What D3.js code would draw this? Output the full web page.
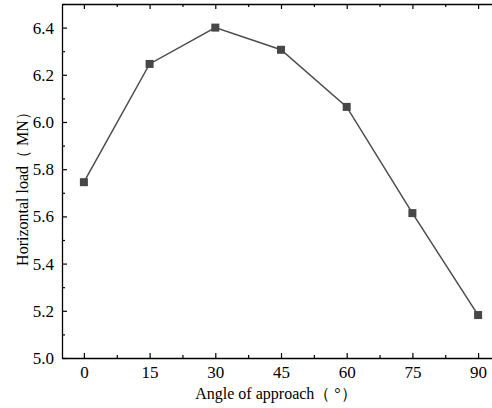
<!DOCTYPE html>
<html>
<head>
<meta charset="utf-8">
<script src="https://d3js.org/d3.v7.min.js"></script>
<style>
  body { margin: 0; background: #fff; }
</style>
</head>
<body>
<script>
// data
const angles = [0, 15, 30, 45, 60, 75, 90];
const loads = [5.745, 6.246, 6.400, 6.306, 6.064, 5.614, 5.182];
const xTicks = [0, 15, 30, 45, 60, 75, 90];
const yTicks = [5.0, 5.2, 5.4, 5.6, 5.8, 6.0, 6.2, 6.4];

const w = 492, h = 408;
const padL = 62, padR = 500, padT = 4, padB = 358;
const serif = "'Liberation Serif', 'Times New Roman', serif";

const svg = d3.select("body").append("svg")
    .attr("width", w)
    .attr("height", h)
    .attr("font-family", serif);

const x = d3.scaleLinear().domain([-5, 95]).range([padL, padR]);
const y = d3.scaleLinear().domain([5.0, 6.5]).range([padB, padT]);

const minorX = d3.range(7.5, 90, 15);
const minorY = d3.range(5.1, 6.5, 0.2);

// tick marks pointing inward on all sides
function ticks(g, axis) {
  g.call(axis);
  g.attr("font-family", serif).attr("font-size", 17);
  g.select(".domain").attr("stroke", "#000").attr("stroke-width", 1.3);
  g.selectAll(".tick line").attr("stroke", "#000").attr("stroke-width", 1.2);
  g.selectAll("text").attr("fill", "#000");
}
function minor(g, axis) {
  g.call(axis);
  g.select(".domain").remove();
  g.selectAll("line").attr("stroke", "#000").attr("stroke-width", 1.2);
}

// bottom axis
svg.append("g")
  .attr("transform", "translate(0," + padB + ")")
  .call(g => ticks(g, d3.axisBottom(x).tickValues(xTicks).tickSize(-5).tickSizeOuter(0).tickPadding(8).tickFormat(d3.format("d"))));
svg.append("g")
  .attr("transform", "translate(0," + padB + ")")
  .call(g => minor(g, d3.axisBottom(x).tickValues(minorX).tickSize(-3).tickFormat("")));

// top axis
svg.append("g")
  .attr("transform", "translate(0," + padT + ")")
  .call(g => ticks(g, d3.axisTop(x).tickValues(xTicks).tickSize(-5).tickSizeOuter(0).tickFormat("")));
svg.append("g")
  .attr("transform", "translate(0," + padT + ")")
  .call(g => minor(g, d3.axisTop(x).tickValues(minorX).tickSize(-3).tickFormat("")));

// left axis
svg.append("g")
  .attr("transform", "translate(" + padL + ",0)")
  .call(g => ticks(g, d3.axisLeft(y).tickValues(yTicks).tickSize(-5).tickSizeOuter(0).tickPadding(8).tickFormat(d3.format(".1f"))));
svg.append("g")
  .attr("transform", "translate(" + padL + ",0)")
  .call(g => minor(g, d3.axisLeft(y).tickValues(minorY).tickSize(-3).tickFormat("")));

// line + square markers
const pts = angles.map((a, i) => [a, loads[i]]);
svg.append("path")
  .datum(pts)
  .attr("fill", "none")
  .attr("stroke", "#4d4d4d")
  .attr("stroke-width", 1.5)
  .attr("d", d3.line().x(d => x(d[0])).y(d => y(d[1])));

svg.selectAll("rect.pt")
  .data(pts)
  .enter()
  .append("rect")
  .attr("class", "pt")
  .attr("x", d => x(d[0]) - 4)
  .attr("y", d => y(d[1]) - 4)
  .attr("width", 8)
  .attr("height", 8)
  .attr("fill", "#474747");

// axis titles
svg.append("text")
  .attr("x", 276)
  .attr("y", 399)
  .attr("text-anchor", "middle")
  .attr("font-size", 16)
  .text("Angle of approach（ °）");

svg.append("text")
  .attr("transform", "translate(28,185) rotate(-90)")
  .attr("text-anchor", "middle")
  .attr("font-size", 16)
  .text("Horizontal load（ MN）");
</script>
</body>
</html>
